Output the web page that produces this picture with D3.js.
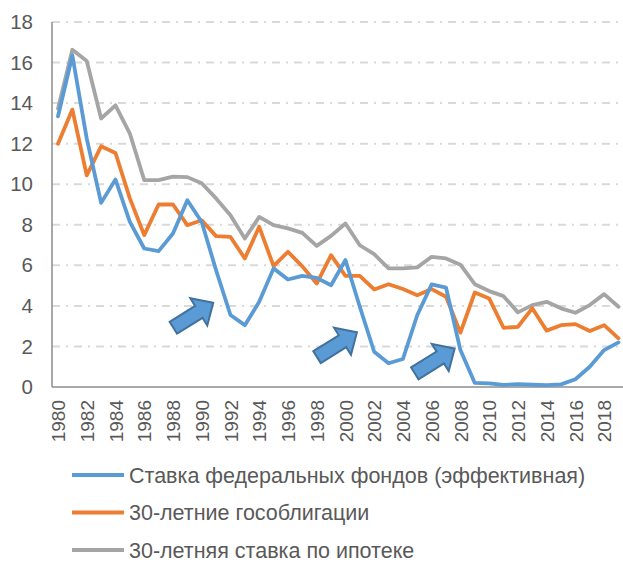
<!DOCTYPE html>
<html>
<head>
<meta charset="utf-8">
<script src="https://cdn.jsdelivr.net/npm/d3@7"></script>
<style>
  body { margin: 0; background: #fff; }
  svg { display: block; font-family: "Liberation Sans", Arial, sans-serif; }
</style>
</head>
<body>
<div id="chart"></div>
<script>
const years = d3.range(1980, 2020);
const yTicks = [0, 2, 4, 6, 8, 10, 12, 14, 16, 18];

// Ставка федеральных фондов (эффективная)
const fedFunds = [13.35, 16.35, 12.25, 9.08, 10.23, 8.14, 6.83, 6.7, 7.57, 9.21,
  8.14, 5.76, 3.55, 3.05, 4.2, 5.85, 5.3, 5.48, 5.38, 5.02,
  6.26, 3.96, 1.74, 1.17, 1.38, 3.55, 5.06, 4.9, 1.82, 0.2,
  0.18, 0.1, 0.14, 0.11, 0.09, 0.13, 0.38, 1.0, 1.82, 2.2];
// 30-летние гособлигации
const treasury30 = [12.0, 13.68, 10.44, 11.87, 11.54, 9.3, 7.49, 9.0, 9.0, 7.98,
  8.22, 7.44, 7.4, 6.34, 7.9, 5.96, 6.67, 5.95, 5.1, 6.5,
  5.48, 5.48, 4.81, 5.07, 4.83, 4.53, 4.83, 4.45, 2.68, 4.66,
  4.37, 2.92, 2.97, 3.88, 2.78, 3.05, 3.1, 2.76, 3.05, 2.4];
// 30-летняя ставка по ипотеке
const mortgage30 = [13.73, 16.63, 16.08, 13.24, 13.89, 12.5, 10.2, 10.2, 10.37, 10.35,
  10.05, 9.3, 8.47, 7.32, 8.39, 7.98, 7.82, 7.6, 6.96, 7.45,
  8.06, 6.99, 6.55, 5.85, 5.85, 5.9, 6.42, 6.34, 6.03, 5.07,
  4.73, 4.48, 3.68, 4.04, 4.2, 3.88, 3.66, 4.04, 4.58, 3.96];

const seriesNames = ["Ставка федеральных фондов (эффективная)", "30-летние гособлигации", "30-летняя ставка по ипотеке"];
const seriesColors = ["#5B9BD5", "#ED7D31", "#A5A5A5"];
// arrow annotations: tip position in data coordinates
const arrowTips = [[1990.8, 4.15], [2000.8, 2.7], [2007.6, 1.9]];

const width = 623, height = 564;
const svg = d3.select("#chart").append("svg")
  .attr("width", width)
  .attr("height", height);

const x = d3.scalePoint().domain(years).range([58, 618.5]);
const xYear = d3.scaleLinear().domain([1980, 2019]).range([58, 618.5]);
const y = d3.scaleLinear().domain([0, 18]).range([387, 22]);
const left = 52, right = 623;

// grid
svg.append("g").selectAll("line")
  .data(yTicks.filter(d => d > 0))
  .join("line")
  .attr("x1", left).attr("x2", right)
  .attr("y1", d => y(d)).attr("y2", d => y(d))
  .attr("stroke", "#D9D9D9")
  .attr("stroke-width", 2)
  .attr("stroke-dasharray", "8,6,2,6");

// y axis
const yAxis = d3.axisLeft(y).tickValues(yTicks).tickSize(0).tickPadding(19);
const yAxisGroup = svg.append("g").attr("transform", `translate(${left},0)`).call(yAxis);
yAxisGroup.select(".domain").remove();
yAxisGroup.selectAll("text").attr("font-size", 20.5).attr("fill", "#595959")
  .attr("font-family", "Liberation Sans, Arial, sans-serif");

// x axis labels
const xAxis = d3.axisBottom(x).tickValues(years.filter(d => d % 2 === 0)).tickSize(0).tickPadding(0);
const xAxisGroup = svg.append("g").attr("transform", `translate(0,${y(0)})`).call(xAxis);
xAxisGroup.select(".domain").remove();
xAxisGroup.selectAll("text")
  .attr("font-size", 19).attr("fill", "#595959")
  .attr("font-family", "Liberation Sans, Arial, sans-serif")
  .attr("transform", "rotate(-90)")
  .attr("text-anchor", "end")
  .attr("x", -13).attr("y", 0).attr("dy", "0.35em");

// axis lines
svg.append("line").attr("x1", left).attr("x2", left).attr("y1", 22).attr("y2", y(0))
  .attr("stroke", "#8C8C8C").attr("stroke-width", 1.5);
svg.append("line").attr("x1", left).attr("x2", right).attr("y1", y(0)).attr("y2", y(0))
  .attr("stroke", "#8C8C8C").attr("stroke-width", 1.5);

// series lines
const line = d3.line().x((d, i) => x(years[i])).y(d => y(d));
[fedFunds, treasury30, mortgage30].slice().reverse().forEach((s, k) => {
  svg.append("path")
    .datum(s)
    .attr("d", line)
    .attr("fill", "none")
    .attr("stroke", seriesColors[2 - k])
    .attr("stroke-width", 3.8)
    .attr("stroke-linejoin", "round")
    .attr("stroke-linecap", "round");
});

// arrows (block arrows pointing up-right)
const arrowShape = () => {
  const L = 47, hl = 17, sw = 7, hw = 16;
  return [[-L, -sw], [-hl, -sw], [-hl, -hw], [0, 0], [-hl, hw], [-hl, sw], [-L, sw]];
};
svg.append("g").selectAll("path")
  .data(arrowTips)
  .join("path")
  .attr("d", d3.line()(arrowShape()) + "Z")
  .attr("transform", d => `translate(${xYear(d[0])},${y(d[1])}) rotate(-32)`)
  .attr("fill", "#5B9BD5")
  .attr("stroke", "#41719C")
  .attr("stroke-width", 2)
  .attr("stroke-linejoin", "miter");

// legend
const legend = svg.append("g");
seriesNames.forEach((name, i) => {
  const ly = 475 + i * 37.5;
  legend.append("line").attr("x1", 72).attr("x2", 124).attr("y1", ly).attr("y2", ly)
    .attr("stroke", seriesColors[i]).attr("stroke-width", 4);
  legend.append("text").attr("x", 129).attr("y", ly).attr("dy", "0.35em")
    .attr("font-size", 21.5).attr("fill", "#595959").text(name);
});
</script>
</body>
</html>
